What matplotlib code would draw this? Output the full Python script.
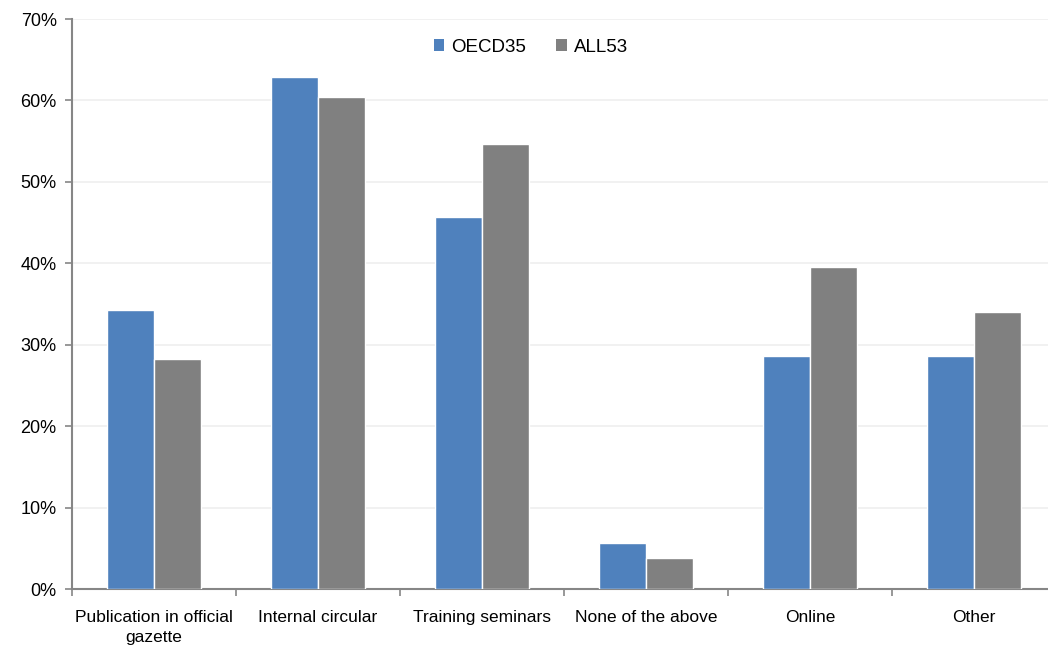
import matplotlib
matplotlib.use("Agg")
import matplotlib.pyplot as plt
from matplotlib.patches import Patch
import numpy as np

categories = ["Publication in official\ngazette", "Internal circular", "Training seminars",
              "None of the above", "Online", "Other"]
oecd35 = [34.3, 62.9, 45.7, 5.7, 28.6, 28.6]
all53 = [28.3, 60.4, 54.7, 3.8, 39.6, 34.0]
series_names = ["OECD35", "ALL53"]
yticks = [0, 10, 20, 30, 40, 50, 60, 70]

plt.rcParams["font.family"] = ["Liberation Sans", "DejaVu Sans"]

blue = "#4F81BD"
grey = "#808080"
axis_grey = "#868686"

fig = plt.figure(figsize=(10.48, 6.49), dpi=100)
ax = fig.add_axes([72 / 1048, 60 / 649, (1056 - 72) / 1048, 570 / 649])

x = np.arange(len(categories))
w = 0.285
ax.bar(x - w / 2, oecd35, width=w, color=blue, edgecolor="white", linewidth=1, zorder=3)
ax.bar(x + w / 2, all53, width=w, color=grey, edgecolor="white", linewidth=1, zorder=3)

ax.set_xlim(-0.5, len(categories) - 0.5)
ax.set_ylim(0, 70)
ax.set_yticks(yticks)
ax.set_yticklabels([f"{v}%" for v in yticks], fontsize=13)
ax.yaxis.grid(True, color="#EFEFEF", linewidth=1.2, zorder=0)
ax.set_axisbelow(True)

# category labels centred, tick marks on category boundaries
ax.set_xticks(x)
ax.set_xticklabels(categories, fontsize=12.5, linespacing=1.4)
ax.set_xticks(np.arange(len(categories) + 1) - 0.5, minor=True)
ax.tick_params(axis="x", which="major", length=0, pad=15)
ax.tick_params(axis="x", which="minor", length=5, color=axis_grey, width=1.2, direction="out")
ax.tick_params(axis="y", length=5, color=axis_grey, width=1.2, direction="out", pad=6)

for side in ("top", "right"):
    ax.spines[side].set_visible(False)
for side in ("left", "bottom"):
    ax.spines[side].set_color(axis_grey)
    ax.spines[side].set_linewidth(1.5)

handles = [Patch(facecolor=blue, edgecolor="none"), Patch(facecolor=grey, edgecolor="none")]
fig.legend(handles, series_names, loc="center", bbox_to_anchor=(531 / 1048, 1 - 47 / 649),
           ncol=2, frameon=False, fontsize=13.5, handlelength=0.55, handleheight=0.55,
           handletextpad=0.4, columnspacing=1.6)

fig.savefig("out.png", dpi=100)
